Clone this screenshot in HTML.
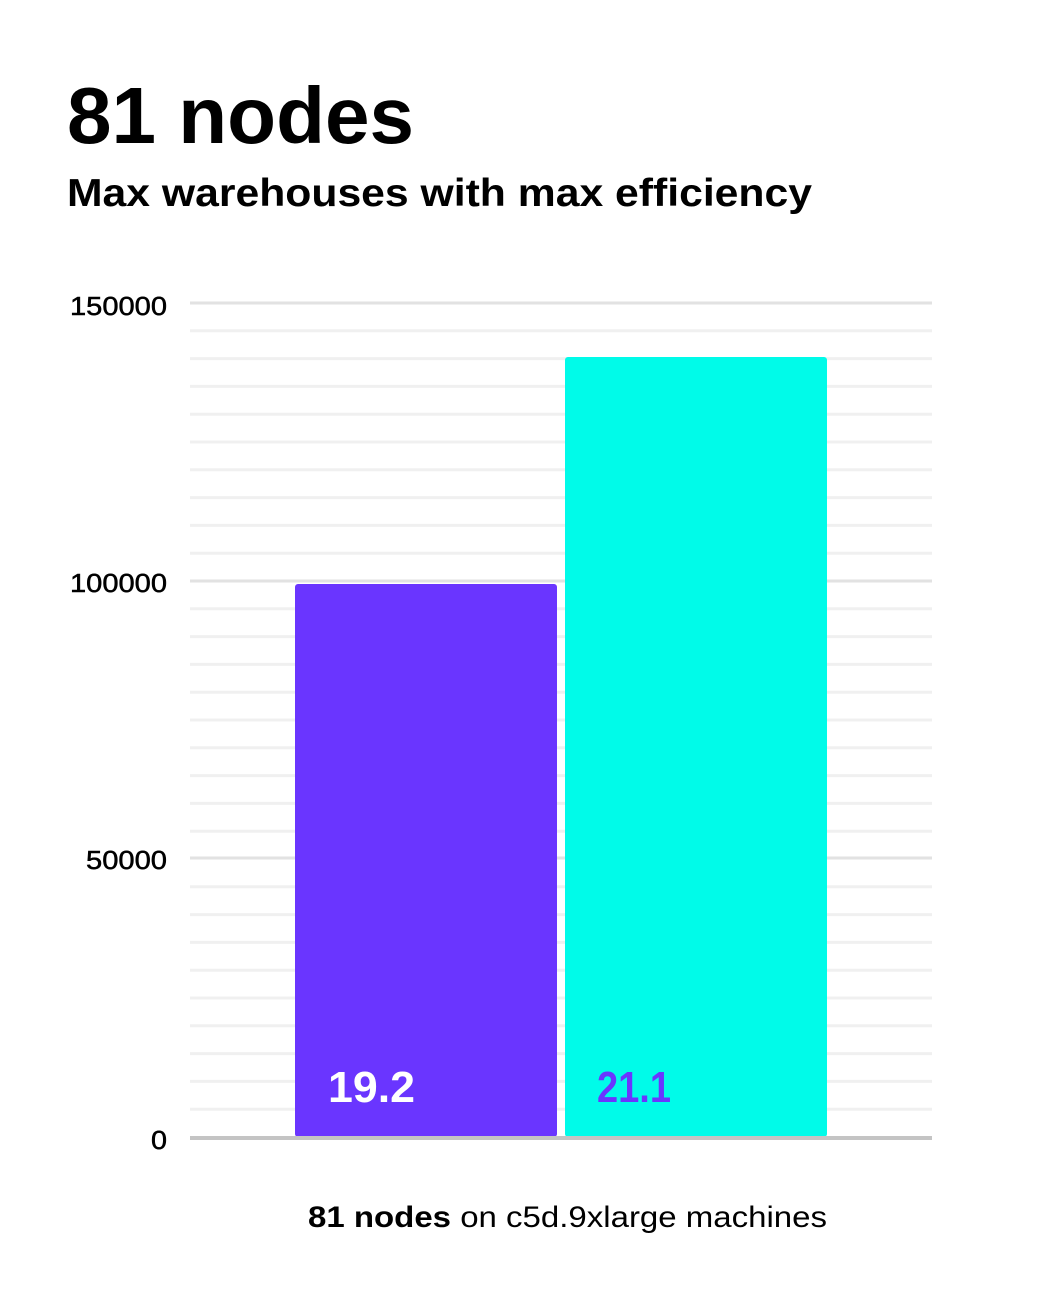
<!DOCTYPE html>
<html><head><meta charset="utf-8"><style>
html,body{margin:0;padding:0;background:#fff;}
svg{display:block;}
</style></head><body>
<svg width="1042" height="1302" viewBox="0 0 1042 1302" xmlns="http://www.w3.org/2000/svg" font-family="Liberation Sans, sans-serif">
<rect width="1042" height="1302" fill="#fff"/>
<text x="67" y="143" font-size="80" font-weight="bold" fill="#000" textLength="347" lengthAdjust="spacingAndGlyphs">81 nodes</text>
<text x="67" y="206" font-size="39" font-weight="bold" fill="#000" textLength="745" lengthAdjust="spacingAndGlyphs">Max warehouses with max efficiency</text>
<g stroke="#f0f0f0" stroke-width="3">
<line x1="190" x2="932" y1="330.8" y2="330.8"/><line x1="190" x2="932" y1="358.6" y2="358.6"/><line x1="190" x2="932" y1="386.4" y2="386.4"/><line x1="190" x2="932" y1="414.2" y2="414.2"/><line x1="190" x2="932" y1="442" y2="442"/><line x1="190" x2="932" y1="469.8" y2="469.8"/><line x1="190" x2="932" y1="497.6" y2="497.6"/><line x1="190" x2="932" y1="525.4" y2="525.4"/><line x1="190" x2="932" y1="553.2" y2="553.2"/>
<line x1="190" x2="932" y1="608.8" y2="608.8"/><line x1="190" x2="932" y1="636.6" y2="636.6"/><line x1="190" x2="932" y1="664.4" y2="664.4"/><line x1="190" x2="932" y1="692.2" y2="692.2"/><line x1="190" x2="932" y1="720" y2="720"/><line x1="190" x2="932" y1="747.8" y2="747.8"/><line x1="190" x2="932" y1="775.6" y2="775.6"/><line x1="190" x2="932" y1="803.4" y2="803.4"/><line x1="190" x2="932" y1="831.2" y2="831.2"/>
<line x1="190" x2="932" y1="886.8" y2="886.8"/><line x1="190" x2="932" y1="914.6" y2="914.6"/><line x1="190" x2="932" y1="942.4" y2="942.4"/><line x1="190" x2="932" y1="970.2" y2="970.2"/><line x1="190" x2="932" y1="998" y2="998"/><line x1="190" x2="932" y1="1025.8" y2="1025.8"/><line x1="190" x2="932" y1="1053.6" y2="1053.6"/><line x1="190" x2="932" y1="1081.4" y2="1081.4"/><line x1="190" x2="932" y1="1109.2" y2="1109.2"/>
</g>
<g stroke="#e2e2e2" stroke-width="3">
<line x1="190" x2="932" y1="303" y2="303"/><line x1="190" x2="932" y1="581" y2="581"/><line x1="190" x2="932" y1="858" y2="858"/>
</g>
<rect x="295" y="584" width="262" height="553" rx="3" fill="#6a35ff"/>
<rect x="565" y="357" width="262" height="780" rx="3" fill="#00fbe9"/>
<line x1="190" x2="932" y1="1138" y2="1138" stroke="#c4c4c4" stroke-width="4"/>
<g font-size="26" fill="#000" stroke="#000" stroke-width="0.5">
<text x="70" y="315" textLength="97" lengthAdjust="spacingAndGlyphs">150000</text>
<text x="70" y="592" textLength="97" lengthAdjust="spacingAndGlyphs">100000</text>
<text x="86" y="869" textLength="81" lengthAdjust="spacingAndGlyphs">50000</text>
<text x="151" y="1149" textLength="16" lengthAdjust="spacingAndGlyphs">0</text>
</g>
<text x="328" y="1102" font-size="44" font-weight="bold" fill="#fff" textLength="87" lengthAdjust="spacingAndGlyphs">19.2</text>
<text x="597" y="1102" font-size="44" font-weight="bold" fill="#6a35ff" textLength="74" lengthAdjust="spacingAndGlyphs">21.1</text>
<text x="308" y="1227" font-size="30" fill="#000" textLength="519" lengthAdjust="spacingAndGlyphs"><tspan font-weight="bold">81 nodes</tspan> on c5d.9xlarge machines</text>
</svg>
</body></html>
